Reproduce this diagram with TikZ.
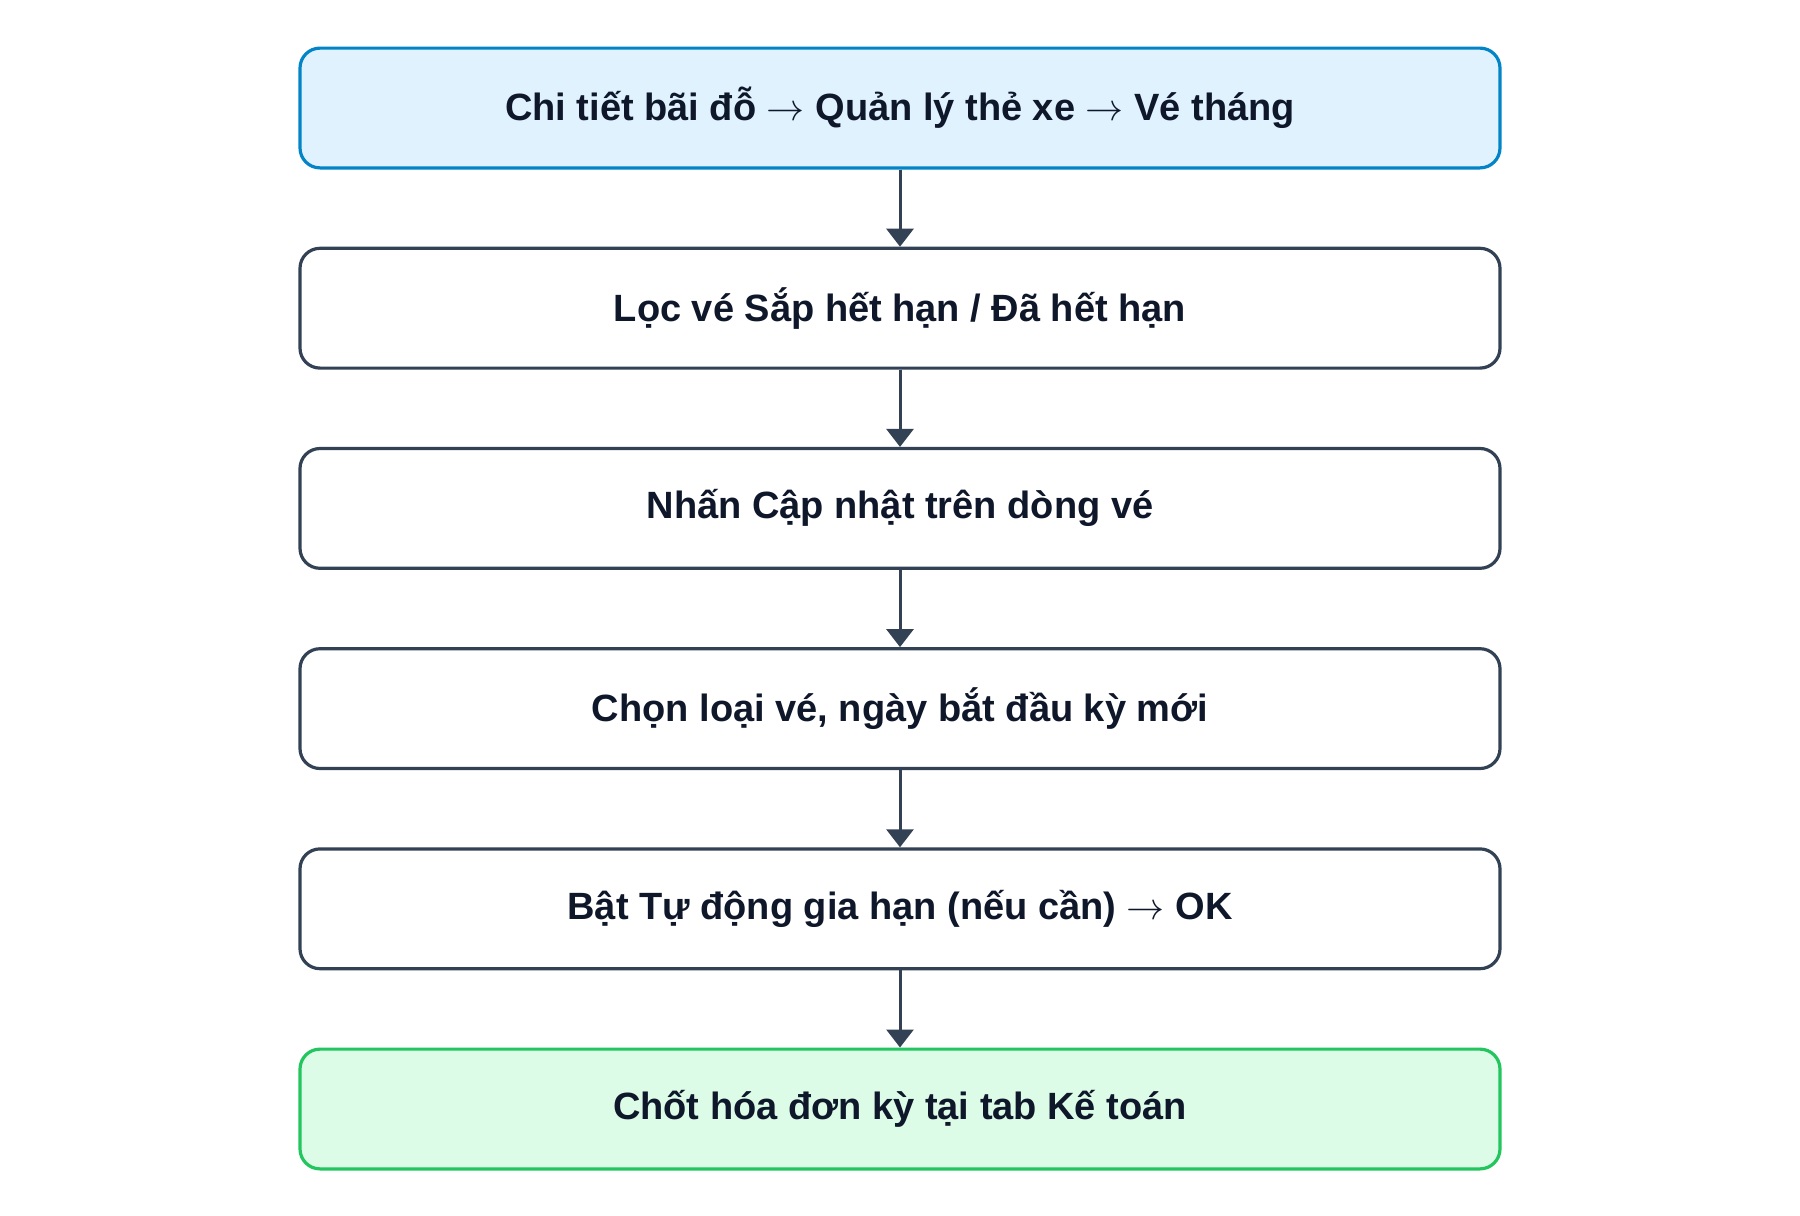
\documentclass[tikz,border=0pt]{standalone}
\usepackage{fontspec}
\usepackage{graphicx}
\setmainfont{Liberation Sans}
\usetikzlibrary{arrows.meta}
\definecolor{txt}{HTML}{0F172A}
\definecolor{slate}{HTML}{334155}
\definecolor{bluebd}{HTML}{0284C7}
\definecolor{bluefill}{HTML}{E0F2FE}
\definecolor{greenbd}{HTML}{22C55E}
\definecolor{greenfill}{HTML}{DCFCE7}
\newcommand{\arrto}{\resizebox{19pt}{!}{$\rightarrow$}}
\begin{document}
\begin{tikzpicture}[x=0.5pt,y=-0.5pt,
  stepbox/.style={draw=slate, fill=white, line width=1.6pt, rounded corners=10pt,
    minimum width=600pt, minimum height=59.9pt, inner sep=0pt,
    font=\fontsize{19}{23}\selectfont\bfseries, text=txt},
  startbox/.style={stepbox, draw=bluebd, fill=bluefill},
  endbox/.style={stepbox, draw=greenbd, fill=greenfill},
  flow/.style={draw=slate, line width=1.5pt, -{Triangle[width=13.5pt,length=9pt]}}]
\useasboundingbox (0,0) rectangle (1800,1216);
\node[startbox] (n1) at (900,108) {Chi tiết bãi đỗ \arrto{} Quản lý thẻ xe \arrto{} Vé tháng};
\node[stepbox] (n2) at (900,308.2) {Lọc vé Sắp hết hạn / Đã hết hạn};
\node[stepbox] (n3) at (900,508.4) {Nhấn Cập nhật trên dòng vé};
\node[stepbox] (n4) at (900,708.6) {Chọn loại vé, ngày bắt đầu kỳ mới};
\node[stepbox] (n5) at (900,908.8) {Bật Tự động gia hạn (nếu cần) \arrto{} OK};
\node[endbox] (n6) at (900,1109) {Chốt hóa đơn kỳ tại tab Kế toán};
\draw[flow] (n1) -- (n2);
\draw[flow] (n2) -- (n3);
\draw[flow] (n3) -- (n4);
\draw[flow] (n4) -- (n5);
\draw[flow] (n5) -- (n6);
\end{tikzpicture}
\end{document}
